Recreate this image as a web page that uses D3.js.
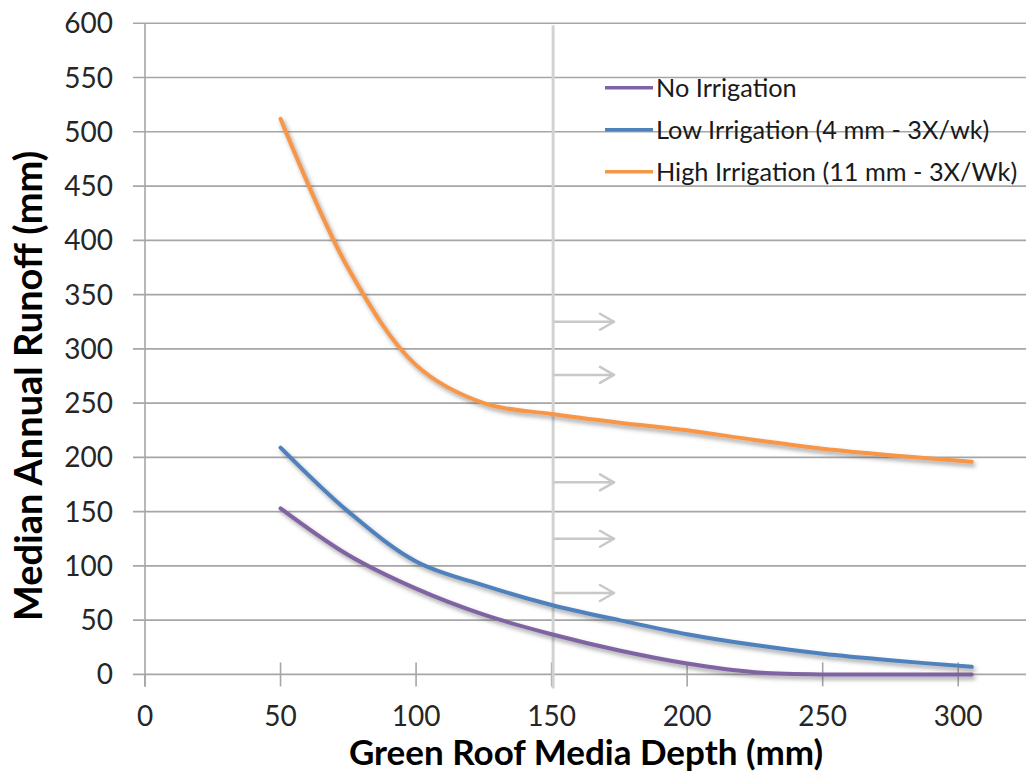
<!DOCTYPE html>
<html>
<head>
<meta charset="utf-8">
<script src="https://cdn.jsdelivr.net/npm/d3@7"></script>
<style>
  html, body { margin: 0; padding: 0; background: #fff; }
  svg { display: block; }
  text { font-family: Lato, "Open Sans", "DejaVu Sans", sans-serif; }
</style>
</head>
<body>
<svg id="chart" width="1027" height="774"></svg>
<script>
// ---------- data ----------
const depths = [50, 75, 100, 125, 150, 175, 200, 225, 250, 275, 305];
const noIrrigation   = [153, 110, 79, 55, 37, 22, 10, 2, 0, 0, 0];
const lowIrrigation  = [209, 150, 104, 82, 64, 50, 37, 27, 19, 13, 7];
const highIrrigation = [512, 374, 285, 250, 240, 232, 225, 216, 208, 202, 196];
const seriesNames = ["No Irrigation", "Low Irrigation (4 mm - 3X/wk)", "High Irrigation (11 mm - 3X/Wk)"];
const seriesColors = ["#8064A2", "#4F81BD", "#F79646"];
const xTicks = [0, 50, 100, 150, 200, 250, 300];
const yTicks = [0, 50, 100, 150, 200, 250, 300, 350, 400, 450, 500, 550, 600];
const markerDepth = 150;
const arrowLevels = [325, 276, 177, 125, 75];
const arrowEnd = 173;
const xTitle = "Green Roof Media Depth (mm)";
const yTitle = "Median Annual Runoff (mm)";

// ---------- layout ----------
const svg = d3.select("#chart");
const x = d3.scaleLinear().domain([0, 325]).range([145, 1026]);
const y = d3.scaleLinear().domain([0, 600]).range([674.4, 23.3]);
const gridColor = "#a6a6a6";

const defs = svg.append("defs");
const f = defs.append("filter").attr("id", "shadow")
  .attr("x", "-10%").attr("y", "-10%").attr("width", "130%").attr("height", "130%");
f.append("feDropShadow").attr("dx", 2).attr("dy", 3).attr("stdDeviation", 2.2)
  .attr("flood-color", "#555").attr("flood-opacity", 0.55);

// gridlines
svg.append("g").selectAll("line").data(yTicks.filter(d => d > 0)).join("line")
  .attr("x1", x(0) - 12).attr("x2", x.range()[1])
  .attr("y1", d => y(d)).attr("y2", d => y(d))
  .attr("stroke", gridColor).attr("stroke-width", 1.6);

// y axis line
svg.append("line").attr("x1", x(0)).attr("x2", x(0))
  .attr("y1", y(600)).attr("y2", y(0) + 12)
  .attr("stroke", gridColor).attr("stroke-width", 1.6);

// x axis line + crossing ticks
svg.append("line").attr("x1", x(0) - 12).attr("x2", x.range()[1])
  .attr("y1", y(0)).attr("y2", y(0))
  .attr("stroke", gridColor).attr("stroke-width", 1.6);
svg.append("g").selectAll("line").data(xTicks).join("line")
  .attr("x1", d => x(d)).attr("x2", d => x(d))
  .attr("y1", d => d === 0 ? y(0) : y(0) - 12).attr("y2", y(0) + 12)
  .attr("stroke", gridColor).attr("stroke-width", 1.6);

// tick labels
svg.append("g").selectAll("text").data(yTicks).join("text")
  .attr("x", 113).attr("y", d => y(d)).attr("dy", "0.36em")
  .attr("text-anchor", "end").attr("font-size", 28).attr("fill", "#262626")
  .text(d => d);
svg.append("g").selectAll("text").data(xTicks).join("text")
  .attr("x", d => x(d)).attr("y", 726)
  .attr("text-anchor", "middle").attr("font-size", 28).attr("fill", "#262626")
  .text(d => d);

// vertical marker line at 150 mm
svg.append("line").attr("x1", x(markerDepth) + 1.5).attr("x2", x(markerDepth) + 1.5)
  .attr("y1", y(600) + 2).attr("y2", y(0) + 14)
  .attr("stroke", "#d2d2d2").attr("stroke-width", 3);

// arrows
const ag = svg.append("g").attr("stroke", "#c8c8c8").attr("stroke-width", 2.5).attr("fill", "none")
  .attr("stroke-linecap", "round").attr("stroke-linejoin", "round");
arrowLevels.forEach(v => {
  const x0 = x(markerDepth) + 3, x1 = x(arrowEnd), yy = y(v);
  ag.append("line").attr("x1", x0).attr("x2", x1).attr("y1", yy).attr("y2", yy);
  ag.append("path").attr("d", `M${x1 - 14},${yy - 8} L${x1},${yy} L${x1 - 14},${yy + 8}`);
});

// series lines
const allSeries = [noIrrigation, lowIrrigation, highIrrigation];
const line = d3.line()
  .x((d, i) => x(depths[i]))
  .y(d => y(d))
  .curve(d3.curveCatmullRom.alpha(0.5));
svg.append("g").selectAll("path").data(allSeries).join("path")
  .attr("d", line)
  .attr("fill", "none")
  .attr("stroke", (d, i) => seriesColors[i])
  .attr("stroke-width", 4)
  .attr("stroke-linecap", "round")
  .attr("filter", "url(#shadow)");

// legend
const lg = svg.append("g");
seriesNames.forEach((name, i) => {
  const yy = 87.7 + i * 42;
  lg.append("line").attr("x1", 605).attr("x2", 653).attr("y1", yy).attr("y2", yy)
    .attr("stroke", seriesColors[i]).attr("stroke-width", 3.5);
  lg.append("text").attr("x", 656).attr("y", yy).attr("dy", "0.36em")
    .attr("font-size", 25.3).attr("fill", "#1a1a1a").text(name);
});

// axis titles
svg.append("text").attr("x", 586).attr("y", 765)
  .attr("text-anchor", "middle").attr("font-size", 35).attr("font-weight", "bold")
  .attr("fill", "#000").text(xTitle);
svg.append("text").attr("transform", "translate(42,386) rotate(-90)")
  .attr("text-anchor", "middle").attr("font-size", 38).attr("font-weight", "bold")
  .attr("fill", "#000").text(yTitle);
</script>
</body>
</html>
